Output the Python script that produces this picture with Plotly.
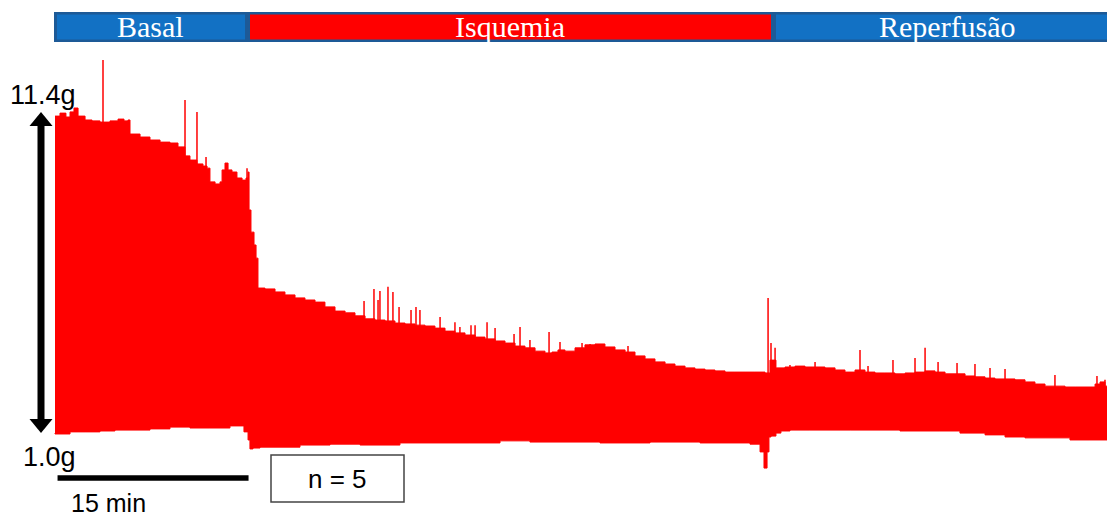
import plotly.graph_objects as go

# ---- data (time in minutes, force in grams) ----
upper_t = [0.00, 0.39, 0.86, 1.18, 1.49, 1.81, 2.36, 2.91, 3.53, 4.32, 4.95, 5.42, 5.73, 5.89, 6.68,
           7.46, 8.25, 9.03, 9.66, 10.21, 10.60, 11.15, 11.62, 11.94, 12.17, 12.57, 12.96, 13.12, 13.35,
           13.59, 13.90, 14.29, 14.69, 15.00, 15.16, 15.24, 15.39, 15.63, 15.79, 15.94, 16.49, 17.28,
           18.06, 18.85, 19.63, 20.42, 21.20, 21.99, 22.78, 23.56, 24.35, 25.13, 25.92, 26.70, 27.49,
           28.27, 29.06, 29.84, 30.63, 31.41, 32.20, 32.99, 33.77, 34.56, 35.34, 36.13, 36.91, 37.70,
           38.48, 39.03, 39.50, 40.05, 40.84, 41.62, 42.41, 43.19, 43.98, 44.77, 45.55, 46.34, 47.12,
           47.91, 48.69, 49.48, 50.26, 51.05, 51.83, 52.62, 53.40, 54.19, 54.97, 55.76, 56.15, 56.39,
           56.62, 57.33, 58.12, 58.90, 59.69, 60.47, 61.26, 62.04, 62.83, 63.61, 64.40, 65.18, 65.97,
           66.76, 67.54, 68.33, 69.11, 69.90, 70.68, 71.47, 72.25, 73.04, 73.82, 74.61, 75.39, 76.18,
           76.96, 77.75, 78.53, 79.32, 80.11, 80.89, 81.68, 82.07, 82.46, 83.25]
upper_g = [11.43, 11.53, 11.40, 11.57, 11.70, 11.43, 11.30, 11.27, 11.23, 11.27, 11.33, 11.27, 11.30,
           10.83, 10.73, 10.63, 10.56, 10.53, 10.40, 10.10, 9.96, 9.83, 9.76, 9.69, 9.23, 9.16, 9.23,
           9.63, 9.86, 9.63, 9.56, 9.36, 9.29, 9.36, 9.56, 8.29, 7.55, 7.12, 6.68, 5.68, 5.65, 5.55,
           5.45, 5.35, 5.28, 5.21, 5.05, 4.91, 4.85, 4.75, 4.65, 4.61, 4.58, 4.51, 4.48, 4.44, 4.41,
           4.34, 4.24, 4.18, 4.11, 4.04, 3.98, 3.91, 3.84, 3.74, 3.68, 3.57, 3.51, 3.54, 3.61, 3.57,
           3.68, 3.78, 3.81, 3.71, 3.61, 3.54, 3.41, 3.31, 3.21, 3.14, 3.07, 3.01, 2.97, 2.94, 2.91,
           2.87, 2.87, 2.87, 2.87, 2.84, 3.27, 3.27, 3.01, 3.04, 3.07, 3.04, 3.04, 3.01, 2.94, 2.87,
           2.94, 2.87, 2.84, 2.84, 2.81, 2.84, 2.87, 2.91, 2.87, 2.81, 2.81, 2.74, 2.71, 2.67, 2.64,
           2.64, 2.61, 2.54, 2.47, 2.40, 2.40, 2.37, 2.37, 2.37, 2.47, 2.54, 2.40, 2.34]

lower_t = [0.00, 1.18, 2.36, 3.53, 4.71, 5.89, 7.46, 9.03, 10.60, 12.17, 13.74, 14.84, 15.16, 15.31,
           15.55, 16.10, 17.67, 19.24, 21.60, 23.96, 27.09, 29.45, 32.59, 34.95, 37.30, 39.66, 42.80,
           46.73, 50.66, 54.58, 55.37, 55.68, 55.92, 56.07, 56.23, 56.62, 57.01, 57.72, 59.29, 62.44,
           66.36, 69.50, 71.07, 73.04, 74.61, 76.18, 77.75, 79.71, 81.28, 83.25]
lower_g = [0.83, 0.80, 0.87, 0.87, 0.90, 0.93, 0.93, 0.97, 1.03, 1.00, 1.00, 1.07, 0.87, 0.60, 0.30,
           0.33, 0.36, 0.36, 0.43, 0.46, 0.43, 0.50, 0.50, 0.50, 0.57, 0.53, 0.53, 0.50, 0.53, 0.50,
           0.46, 0.20, -0.34, 0.20, 0.70, 0.73, 0.83, 0.90, 0.93, 0.93, 0.93, 0.90, 0.90, 0.83, 0.77,
           0.70, 0.67, 0.67, 0.60, 0.60]

spike_t = [3.77, 10.21, 11.15, 11.86, 15.08, 24.27, 25.05, 25.37, 25.52, 26.15, 26.54, 27.02, 27.96,
           28.35, 28.66, 30.24, 31.41, 31.80, 32.67, 32.99, 33.93, 34.56, 36.05, 36.52, 37.30, 38.80,
           39.66, 41.39, 42.02, 43.90, 45.00, 56.00, 56.23, 56.55, 57.72, 59.69, 63.22, 63.85, 65.81,
           67.54, 68.33, 69.35, 70.84, 72.25, 73.43, 74.61, 78.53, 81.83, 82.46]
spike_g = [13.31, 11.97, 11.57, 10.06, 9.69, 5.25, 5.65, 5.28, 5.58, 5.72, 5.55, 5.05, 4.95,
           5.05, 4.95, 4.71, 4.54, 4.38, 4.44, 4.44, 4.54, 4.34, 4.14, 4.38, 3.94, 4.21,
           3.88, 3.84, 3.81, 3.68, 3.74, 5.35, 3.84, 3.68, 3.11, 3.21, 3.61, 3.07, 3.27,
           3.34, 3.68, 3.21, 3.17, 3.14, 3.01, 2.97, 2.77, 2.74, 2.61]

phases = ["Basal", "Isquemia", "Reperfusão"]
scale_label = "15 min"
top_label = "11.4g"
bottom_label = "1.0g"
n_label = "n = 5"

# ---- figure geometry (page body has an 8 px margin on every side) ----
OFF = 8
W, H = 1115 - 2 * OFF, 524 - 2 * OFF
PX_PER_MIN = 191 / 15.0
PX_PER_G = 311 / 10.4
X0_PX = 55 - OFF          # figure pixel where t = 0
Y1_PX = 428 - OFF         # figure pixel where force = 1.0 g
x_range = [-X0_PX / PX_PER_MIN, (W - X0_PX) / PX_PER_MIN]
y_range = [1.0 - (H - Y1_PX) / PX_PER_G, 1.0 + Y1_PX / PX_PER_G]


def px(x):
    return (x - OFF) / W


def py(y):
    return 1 - (y - OFF) / H


RED = "#FF0000"
BLUE_FILL = "#1271C4"
BLUE_EDGE = "#1D5A97"

fig = go.Figure()

# red band (envelope of the recording)
band_t = list(upper_t) + list(reversed(lower_t))
band_g = list(upper_g) + list(reversed(lower_g))
fig.add_trace(go.Scatter(x=band_t, y=band_g, mode="lines", fill="toself",
                         fillcolor=RED, line=dict(color=RED, width=1, shape="hv"),
                         hoverinfo="skip", showlegend=False))

# spikes
sx, sy = [], []
for t, g in zip(spike_t, spike_g):
    sx += [t, t, None]
    sy += [2.0, g, None]
fig.add_trace(go.Scatter(x=sx, y=sy, mode="lines", line=dict(color=RED, width=1.5),
                         hoverinfo="skip", showlegend=False))

shapes = []
annotations = []

# phase header
shapes.append(dict(type="rect", xref="paper", yref="paper", x0=px(54), x1=px(1116), y0=py(42), y1=py(12),
                   fillcolor=BLUE_EDGE, line=dict(width=0), layer="above"))
seg_px = [(57, 245, BLUE_FILL), (250, 771, RED), (776, 1116, BLUE_FILL)]
for (a, b, col), name in zip(seg_px, phases):
    shapes.append(dict(type="rect", xref="paper", yref="paper", x0=px(a), x1=px(b), y0=py(39.5), y1=py(14.5),
                       fillcolor=col, line=dict(width=0), layer="above"))
centers = [150, 510, 947]
for c, name in zip(centers, phases):
    annotations.append(dict(x=px(c), y=py(26), xref="paper", yref="paper", text=name, showarrow=False,
                            xanchor="center", yanchor="middle",
                            font=dict(family="Liberation Serif", size=30, color="white")))

# double-headed scale arrow
shapes.append(dict(type="line", xref="paper", yref="paper", x0=px(41), x1=px(41), y0=py(122), y1=py(423),
                   line=dict(color="black", width=7)))
shapes.append(dict(type="path", xref="paper", yref="paper",
                   path=f"M {px(41)} {py(112)} L {px(29.5)} {py(126)} L {px(52.5)} {py(126)} Z",
                   fillcolor="black", line=dict(width=0)))
shapes.append(dict(type="path", xref="paper", yref="paper",
                   path=f"M {px(41)} {py(433)} L {px(29.5)} {py(419)} L {px(52.5)} {py(419)} Z",
                   fillcolor="black", line=dict(width=0)))
annotations.append(dict(x=px(43), y=py(95), xref="paper", yref="paper", text=top_label, showarrow=False,
                        xanchor="center", yanchor="middle",
                        font=dict(family="Liberation Sans", size=27, color="black")))
annotations.append(dict(x=px(49), y=py(457), xref="paper", yref="paper", text=bottom_label, showarrow=False,
                        xanchor="center", yanchor="middle",
                        font=dict(family="Liberation Sans", size=27, color="black")))

# time scale bar
shapes.append(dict(type="line", xref="x", yref="paper", x0=0.2, x1=15.2, y0=py(478), y1=py(478),
                   line=dict(color="black", width=5.5)))
annotations.append(dict(x=px(108), y=py(503), xref="paper", yref="paper", text=scale_label, showarrow=False,
                        xanchor="center", yanchor="middle",
                        font=dict(family="Liberation Sans", size=25, color="black")))

# n box
shapes.append(dict(type="rect", xref="paper", yref="paper", x0=px(271), x1=px(404), y0=py(502), y1=py(455),
                   fillcolor="white", line=dict(color="#444444", width=1.5)))
annotations.append(dict(x=px(337.5), y=py(479), xref="paper", yref="paper", text=n_label, showarrow=False,
                        xanchor="center", yanchor="middle",
                        font=dict(family="Liberation Sans", size=26, color="black")))

fig.update_layout(
    width=W, height=H,
    margin=dict(l=0, r=0, t=0, b=0),
    paper_bgcolor="white", plot_bgcolor="white",
    xaxis=dict(range=x_range, visible=False, fixedrange=True),
    yaxis=dict(range=y_range, visible=False, fixedrange=True),
    shapes=shapes, annotations=annotations,
    showlegend=False,
)

fig.write_html("out.html", config={"displayModeBar": False})
